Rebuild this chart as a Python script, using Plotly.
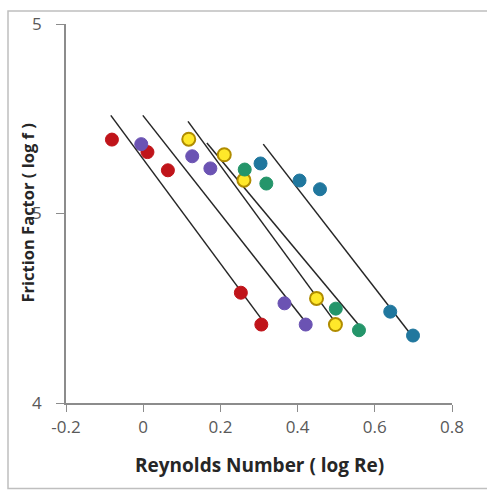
import plotly.graph_objects as go

# ---- data (log Re, log f) ----
red_x = [-0.081, 0.011, 0.064, 0.253, 0.306]
red_y = [4.695, 4.662, 4.614, 4.291, 4.207]
purple_x = [-0.005, 0.127, 0.174, 0.366, 0.421]
purple_y = [4.683, 4.651, 4.619, 4.263, 4.207]
yellow_x = [0.118, 0.210, 0.261, 0.449, 0.498]
yellow_y = [4.696, 4.655, 4.588, 4.276, 4.207]
green_x = [0.263, 0.319, 0.499, 0.559]
green_y = [4.616, 4.579, 4.249, 4.192]
teal_x = [0.304, 0.405, 0.458, 0.640, 0.699]
teal_y = [4.632, 4.587, 4.564, 4.241, 4.178]

# fitted trend lines (start, end)
line1_x = [-0.084, 0.309]; line1_y = [4.759, 4.218]
line2_x = [-0.001, 0.421]; line2_y = [4.759, 4.213]
line3_x = [0.116, 0.494]; line3_y = [4.743, 4.218]
line4_x = [0.165, 0.559]; line4_y = [4.686, 4.205]
line5_x = [0.311, 0.701]; line5_y = [4.683, 4.171]

x_ticks = [-0.2, 0, 0.2, 0.4, 0.6, 0.8]
x_ticktext = ["-0.2", "0", "0.2", "0.4", "0.6", "0.8"]
y_ticks = [4, 4.5, 5]
y_ticktext = ["4", "5", "5"]

fig = go.Figure()

for lx, ly in [(line1_x, line1_y), (line2_x, line2_y), (line3_x, line3_y),
               (line4_x, line4_y), (line5_x, line5_y)]:
    fig.add_trace(go.Scatter(x=lx, y=ly, mode="lines",
                             line=dict(color="#262626", width=1.5),
                             showlegend=False, hoverinfo="skip"))

series = [
    (red_x, red_y, "#C0141A", "#C0141A", 1),
    (purple_x, purple_y, "#6B53B3", "#6B53B3", 1),
    (yellow_x, yellow_y, "#FFE82A", "#B08C00", 2),
    (green_x, green_y, "#24956A", "#24956A", 1),
    (teal_x, teal_y, "#20779E", "#20779E", 1),
]
for sx, sy, fill, edge, w in series:
    fig.add_trace(go.Scatter(x=sx, y=sy, mode="markers",
                             marker=dict(size=13, color=fill,
                                         line=dict(color=edge, width=w)),
                             showlegend=False))

axis_font = dict(family="Open Sans, Liberation Sans, sans-serif", size=17, color="#595959")

fig.update_layout(
    width=487, height=493,
    margin=dict(l=66, r=35, t=22, b=90),
    plot_bgcolor="white", paper_bgcolor="white",
    xaxis=dict(range=[-0.2, 0.8], tickvals=x_ticks, ticktext=x_ticktext,
               showgrid=False, zeroline=False, showline=True,
               linecolor="#8C8C8C", linewidth=1.5,
               ticks="outside", ticklen=7, tickcolor="#8C8C8C",
               tickfont=axis_font, ticklabelstandoff=1),
    yaxis=dict(range=[4, 5], tickvals=y_ticks, ticktext=y_ticktext,
               showgrid=False, zeroline=False, showline=True,
               linecolor="#8C8C8C", linewidth=1.5,
               ticks="outside", ticklen=8, tickcolor="#8C8C8C",
               tickfont=axis_font, ticklabelstandoff=11),
    font=dict(family="Open Sans, Liberation Sans, sans-serif"),
)

fig.add_annotation(text="<b>Reynolds Number ( log Re)</b>", xref="paper", yref="paper",
                   x=0.5, y=-0.163, xanchor="center", yanchor="middle",
                   showarrow=False,
                   font=dict(family="Open Sans, Liberation Sans, sans-serif", size=19, color="#262626"))
fig.add_annotation(text="<b>Friction Factor ( log f )</b>", xref="paper", yref="paper",
                   x=(27 - 66) / 386, y=0.5, xanchor="center", yanchor="middle",
                   textangle=-90, showarrow=False,
                   font=dict(family="Open Sans, Liberation Sans, sans-serif", size=16.5, color="#262626"))

# outer chart border (left/top/bottom), as in the reference
fig.add_shape(type="rect", xref="paper", yref="paper",
              x0=(8 - 66) / 386, x1=(520 - 66) / 386,
              y0=(403 - 489) / 381, y1=(403 - 9) / 381,
              line=dict(color="#BFBFBF", width=1.5), layer="below")

fig.write_html("out.html")
